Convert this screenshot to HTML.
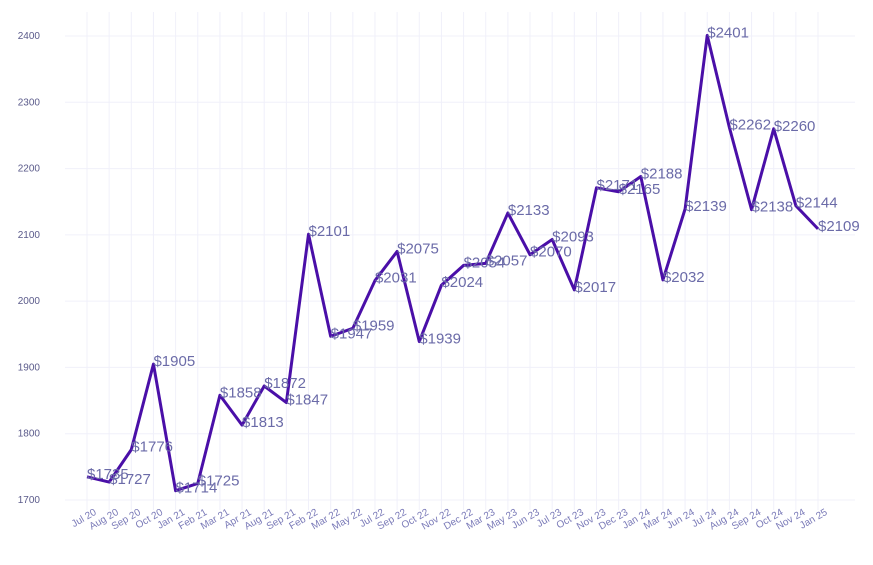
<!DOCTYPE html>
<html><head><meta charset="utf-8"><style>body{margin:0;background:#fff}svg{display:block;font-family:"Liberation Sans",Arial,sans-serif}</style></head>
<body>
<svg id="c" width="873" height="565"></svg>
<script>
const categories=["Jul 20","Aug 20","Sep 20","Oct 20","Jan 21","Feb 21","Mar 21","Apr 21","Aug 21","Sep 21","Feb 22","Mar 22","May 22","Jul 22","Sep 22","Oct 22","Nov 22","Dec 22","Mar 23","May 23","Jun 23","Jul 23","Oct 23","Nov 23","Dec 23","Jan 24","Mar 24","Jun 24","Jul 24","Aug 24","Sep 24","Oct 24","Nov 24","Jan 25"];
const values=[1735,1727,1776,1905,1714,1725,1858,1813,1872,1847,2101,1947,1959,2031,2075,1939,2024,2054,2057,2133,2070,2093,2017,2171,2165,2188,2032,2139,2401,2262,2138,2260,2144,2109];
const yTicks=[1700,1800,1900,2000,2100,2200,2300,2400];
const NS="http://www.w3.org/2000/svg",svg=document.getElementById('c');
const x=i=>87+i*(818-87)/(categories.length-1);
const y=v=>500-(v-1700)*(500-36)/700;
function mk(t,a,p){const e=document.createElementNS(NS,t);for(const k in a)e.setAttribute(k,a[k]);(p||svg).appendChild(e);return e;}
const grid=mk('g',{});


yTicks.forEach(v=>{
  mk('line',{x1:65,x2:855,y1:y(v),y2:y(v),stroke:'#f0f0fa','stroke-width':1},grid);
  const t=mk('text',{x:40,y:y(v)+3,'text-anchor':'end','font-size':10,fill:'#5a5a8a'});
  
  
  t.textContent=v;
});
categories.forEach((c,i)=>{
  mk('line',{x1:x(i),x2:x(i),y1:12,y2:510,stroke:'#f0f0fa','stroke-width':1},grid);
  const t=mk('text',{x:x(i)+10,y:514,'text-anchor':'end','font-size':10,fill:'#7a7ab8',transform:`rotate(-30 ${x(i)+10} 514)`});
  
  
  t.textContent=c;
});
const line=mk('polyline',{points:values.map((v,i)=>x(i)+','+y(v)).join(' '),fill:'none',stroke:'#4a0fa8','stroke-width':3,'stroke-linejoin':'round'});


values.forEach((v,i)=>{
  const t=mk('text',{x:x(i),y:y(v)+2,'font-size':15,fill:'#6b6ba8'});
  
  
  t.textContent='$'+v;
});
</script>
</body></html>
